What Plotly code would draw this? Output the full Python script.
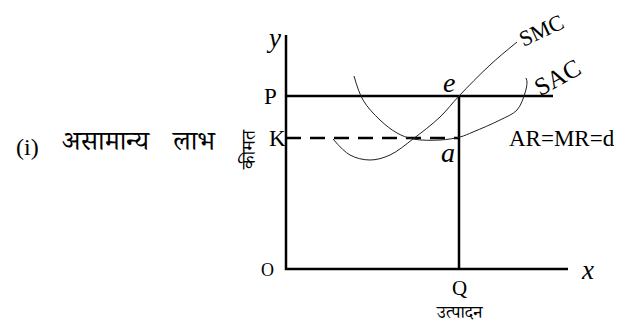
import plotly.graph_objects as go

# Diagram data (units: output on x, price on y; origin O at (0,0))
axis_x_end = 28.2
axis_y_end = 23.4
P_level = 17.3
K_level = 13.1
Q_level = 17.3
P_line_end = 26.7

smc_x = [4.7, 6.4, 8.4, 10.4, 12.7, 15.4, 17.3, 20.4, 23.1]
smc_y = [13.0, 11.4, 10.9, 11.4, 13.0, 15.2, 17.3, 20.4, 22.7]

sac_x = [6.8, 7.7, 9.4, 11.1, 12.7, 15.4, 17.4, 18.7, 21.4, 23.1, 23.9, 24.1, 24.0]
sac_y = [19.3, 16.9, 14.9, 13.6, 13.0, 12.9, 13.2, 13.7, 14.9, 15.9, 17.6, 18.7, 19.1]

SERIF = "Liberation Serif, Times New Roman, serif"
DEVA = "Noto Serif Devanagari, Noto Sans Devanagari, Lohit Devanagari, Noto Sans, sans-serif"

fig = go.Figure()
blk = "black"
# axes
fig.add_trace(go.Scatter(x=[0, 0, axis_x_end], y=[axis_y_end, 0, 0], mode="lines",
                         line=dict(color=blk, width=2.5), hoverinfo="skip"))
# price line P (AR=MR=d)
fig.add_trace(go.Scatter(x=[0, P_line_end], y=[P_level, P_level], mode="lines",
                         line=dict(color=blk, width=2.5), hoverinfo="skip"))
# dashed K line
fig.add_trace(go.Scatter(x=[0, Q_level], y=[K_level, K_level], mode="lines",
                         line=dict(color=blk, width=2.5, dash="15px,9px"), hoverinfo="skip"))
# vertical at Q
fig.add_trace(go.Scatter(x=[Q_level, Q_level], y=[0, P_level], mode="lines",
                         line=dict(color=blk, width=2.5), hoverinfo="skip"))
# SMC
fig.add_trace(go.Scatter(x=smc_x, y=smc_y, mode="lines",
                         line=dict(color="#222", width=1, shape="spline"), hoverinfo="skip"))
# SAC
fig.add_trace(go.Scatter(x=sac_x, y=sac_y, mode="lines",
                         line=dict(color="#222", width=1, shape="spline"), hoverinfo="skip"))

def ann(x, y, text, size, font=SERIF, angle=0, italic=False):
    t = f"<i>{text}</i>" if italic else text
    fig.add_annotation(x=x, y=y, text=t, showarrow=False, textangle=angle,
                       font=dict(family=font, size=size, color="black"),
                       xanchor="center", yanchor="middle", borderpad=0)

ann(-1.3, axis_y_end - 0.3, "y", 27, italic=True)
ann(30.1, -0.1, "x", 27, italic=True)
ann(-1.6, P_level, "P", 23)
ann(-0.9, K_level, "K", 23)
ann(-1.9, -0.1, "O", 18)
ann(Q_level, -1.9, "Q", 21)
ann(Q_level, -4.6, "उत्पादन", 18, font=DEVA)
ann(-3.4, 11.9, "कीमत", 19, font=DEVA, angle=-90)
ann(16.3, 18.7, "e", 28, italic=True)
ann(16.2, 11.7, "a", 28, italic=True)
ann(25.5, 23.9, "SMC", 22, angle=-25)
ann(27.1, 19.2, "SAC", 25, angle=-29)
ann(27.6, K_level, "AR=MR=d", 23)
ann(-25.9, 12.2, "(i)", 24)
ann(-18.0, 12.3, "असामान्य", 27, font=DEVA)
ann(-9.3, 12.3, "लाभ", 27, font=DEVA)

# page body has an 8px default margin, so the figure is 8px smaller on each side
fig.update_layout(
    width=614, height=322, autosize=False,
    margin=dict(l=0, r=0, t=0, b=0),
    paper_bgcolor="white", plot_bgcolor="white",
    showlegend=False,
    xaxis=dict(range=[-27.8, 33.6], visible=False, fixedrange=True),
    yaxis=dict(range=[-6.1, 26.1], visible=False, fixedrange=True),
)
fig.write_html("out.html")
